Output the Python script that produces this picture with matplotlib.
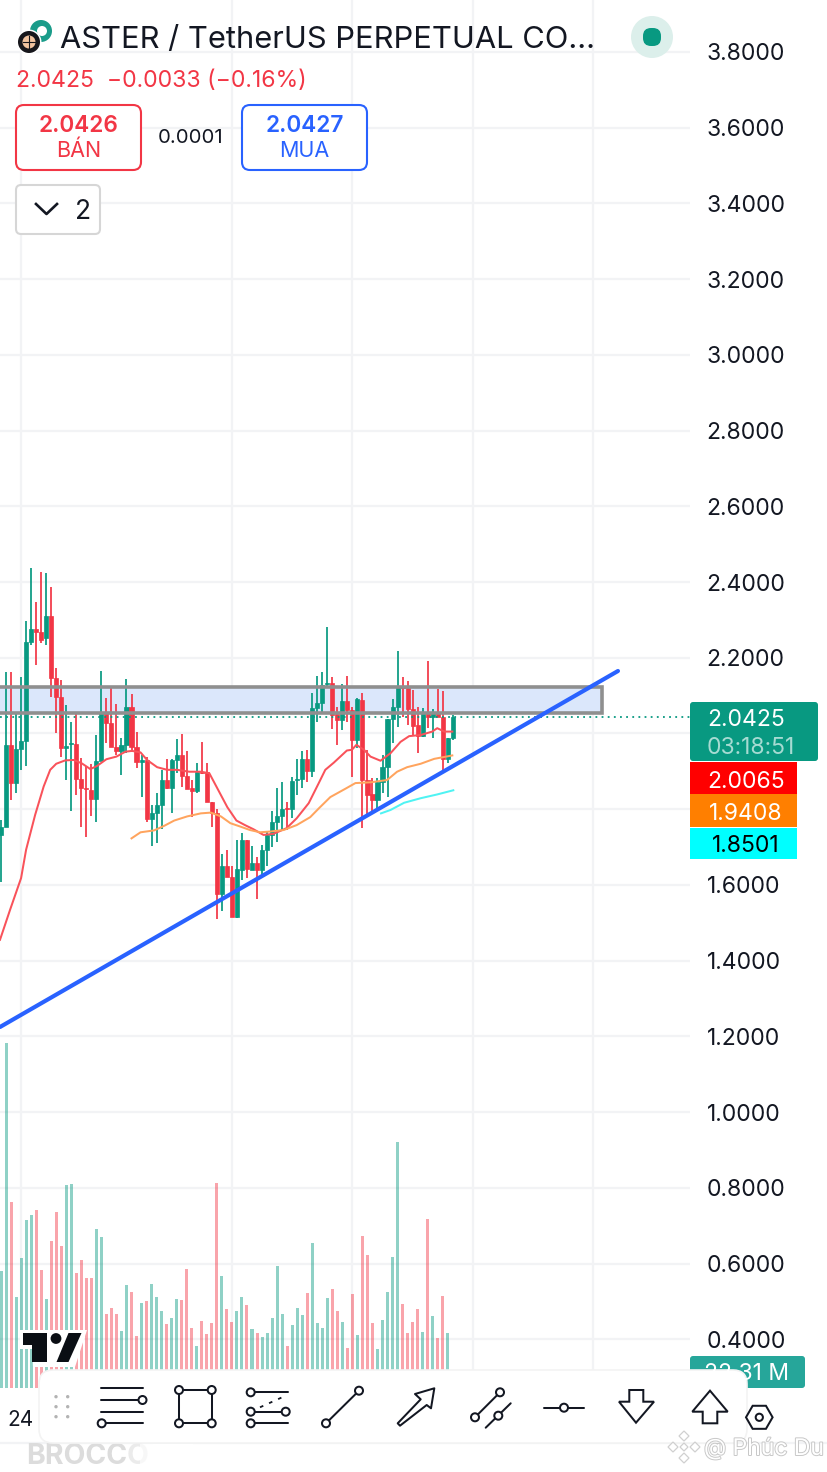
import numpy as np
import matplotlib
matplotlib.use('Agg')
import matplotlib.pyplot as plt
import matplotlib.patheffects as pe
from matplotlib.patches import Rectangle, Circle, FancyBboxPatch, Polygon

plt.rcParams['font.family'] = ['Inter', 'DejaVu Sans']

#candles
open_ = [1.732,1.754,1.970,1.869,1.959,1.979,2.241,2.276,2.267,2.251,2.310,2.146,2.097,1.961,1.972,1.972,1.879,1.855,1.851,1.826,
         1.926,2.053,2.029,1.964,1.955,1.970,2.069,1.965,1.924,1.930,1.774,1.789,1.810,1.877,1.856,1.930,1.942,1.888,1.856,1.849,
         1.899,1.897,1.818,1.791,1.576,1.650,1.622,1.515,1.640,1.719,1.640,1.659,1.640,1.691,1.732,1.765,1.783,1.802,1.800,1.877,
         1.879,1.933,1.901,2.068,2.080,2.131,2.133,2.052,2.036,2.087,2.062,1.983,2.088,1.877,1.840,1.825,1.871,1.911,2.037,2.071,
         2.126,2.121,2.065,2.022,1.993,2.058,2.043,2.058,2.044,1.933,1.987]
close = [1.754,1.970,1.869,1.959,1.979,2.241,2.276,2.269,2.247,2.310,2.146,2.097,1.961,1.967,1.974,1.879,1.855,1.853,1.826,1.926,
         2.053,2.029,1.964,1.955,1.970,2.069,1.965,1.924,1.930,1.774,1.789,1.810,1.877,1.856,1.930,1.942,1.888,1.854,1.849,1.899,
         1.895,1.818,1.791,1.576,1.650,1.622,1.515,1.642,1.719,1.641,1.659,1.640,1.692,1.732,1.765,1.783,1.800,1.800,1.875,1.879,
         1.933,1.901,2.066,2.080,2.128,2.134,2.049,2.036,2.087,2.062,1.983,2.090,1.877,1.838,1.825,1.871,1.911,2.037,2.071,2.126,
         2.121,2.064,2.021,1.993,2.056,2.043,2.058,2.044,1.933,1.988,2.043]
high = [1.772,2.163,2.163,2.051,2.150,2.298,2.436,2.346,2.427,2.425,2.388,2.172,2.140,2.074,2.030,2.053,1.935,1.914,1.919,1.996,
        2.166,2.093,2.124,2.078,1.987,2.143,2.104,2.005,1.943,1.939,1.811,1.842,1.904,1.933,1.932,1.985,1.999,1.955,1.877,1.921,
        1.977,1.921,1.818,1.800,1.682,1.691,1.650,1.719,1.738,1.719,1.703,1.675,1.706,1.741,1.794,1.855,1.873,1.820,1.886,1.933,
        1.955,1.957,2.106,2.153,2.163,2.280,2.150,2.071,2.131,2.153,2.071,2.093,2.108,1.957,1.883,1.882,1.943,2.037,2.090,2.219,
        2.148,2.138,2.115,2.071,2.066,2.192,2.064,2.118,2.112,1.988,2.049]
low = [1.609,1.754,1.823,1.842,1.904,1.914,2.234,2.181,2.240,2.234,2.097,2.002,1.937,1.876,1.796,1.838,1.752,1.726,1.781,1.765,
       1.926,1.976,1.964,1.943,1.891,1.948,1.952,1.908,1.832,1.767,1.704,1.710,1.747,1.854,1.791,1.895,1.858,1.854,1.779,1.844,
       1.893,1.818,1.754,1.510,1.530,1.622,1.515,1.512,1.613,1.618,1.640,1.563,1.618,1.649,1.701,1.714,1.745,1.745,1.776,1.838,
       1.855,1.873,1.886,2.031,2.058,2.119,2.011,1.970,2.008,2.031,1.886,1.961,1.750,1.785,1.794,1.798,1.842,1.832,1.974,2.016,
       2.043,2.022,1.996,1.948,1.992,2.014,1.987,2.044,1.902,1.923,1.983]
#volume bar heights (last one sits behind the toolbar)
volume = [47.3,139.0,74.9,36.8,52.3,67.6,69.8,72.0,47.6,35.9,59.3,71.0,57.2,81.9,82.3,46.2,51.5,44.5,44.2,64.0,
          61.0,29.8,32.2,29.7,22.9,41.5,38.8,20.8,34.4,35.1,41.9,36.7,31.0,26.0,28.1,36.1,35.6,48.1,24.4,16.9,
          27.0,21.9,26.3,82.5,45.0,31.8,26.7,30.9,36.7,33.5,23.8,22.1,20.7,22.3,28.1,49.4,29.9,17.0,25.4,32.4,
          29.5,38.5,58.5,26.2,24.2,36.2,39.8,31.1,26.8,16.1,37.9,21.4,61.3,53.7,26.2,15.6,27.3,38.7,53.0,99.3,
          34.0,22.3,26.8,31.9,22.6,68.2,29.0,20.2,37.1,22.3,6.5]

#moving averages, read point by point
ma_red_x = [-0.2,1.8,4,5,6.8,8.5,9.8,11,12.8,14.5,16.1,17.8,19.1,21,23,24.8,26.1,27.8,29.1,31.1,33.1,35.1,37.5,39.8,41.5,43.1,45.1,46.9,
            48.6,50.3,52.3,54.3,56.9,58.9,61.3,63.3,64.6,66.3,68.9,69.9,70.8,72.3,73.6,75.6,77.6,79.6,81.3,83.6,85.9,86.9,88.3,89.9]
ma_red_y = [1.455,1.534,1.618,1.693,1.785,1.860,1.904,1.920,1.929,1.930,1.921,1.906,1.914,1.932,1.939,1.952,1.954,1.950,1.930,1.911,1.904,1.904,1.899,1.899,1.895,1.855,1.805,1.770,
            1.758,1.747,1.732,1.735,1.750,1.776,1.816,1.869,1.904,1.923,1.955,1.957,1.970,1.957,1.939,1.928,1.948,1.978,1.993,1.996,2.005,2.014,2.005,2.005]
ma_orange_x = [26,27.8,30.5,32.5,34.5,37.1,39.8,41.8,43.8,45.7,47.7,49.6,51.6,53.6,56.3,58.9,61.6,63.3,65.6,68.6,70.6,73.6,76.9,78.9,80.9,83.6,86.3,89.9]
ma_orange_y = [1.723,1.739,1.744,1.756,1.770,1.781,1.789,1.791,1.781,1.763,1.754,1.745,1.739,1.741,1.745,1.758,1.779,1.802,1.832,1.854,1.869,1.871,1.877,1.899,1.911,1.920,1.933,1.942]
ma_cyan_x = [75.7,77.6,80.3,83.6,86.9,90.1]
ma_cyan_y = [1.789,1.798,1.817,1.829,1.839,1.850]

#drawings on the chart
zone_top, zone_bottom, zone_right = 2.1215, 2.054, 119.7
trend_x = [-0.2, 122.9]
trend_y = [1.2247, 2.165]
last_price = 2.0425
time_grid = [4, 46, 70, 94, 118]
price_ticks = np.arange(0.4, 3.81, 0.2)
hidden_ticks = (2.0, 1.8)  #these sit behind the price labels

W, H = 828, 1472
GREEN, RED, BLUE = '#089981', '#f23645', '#2962ff'
GRID = '#f2f3f5'
INK = '#131722'

#pixel <-> data frame of the pane
y_top = 3.8 + 52/378.6
y_bot = 3.8 - (H-52)/378.6
pane_bot = 3.8 - (1388-52)/378.6
x_left = -1/5.02
x_right = (690-1)/5.02

fig = plt.figure(figsize=(W/100, H/100), dpi=100, facecolor='white')

#%%
#price pane
ax = fig.add_axes([0, 0, 690/W, 1])
ax.set_xlim(x_left, x_right)
ax.set_ylim(y_bot, y_top)
for s in ax.spines.values():
    s.set_visible(False)
ax.set_xticks([])
ax.yaxis.tick_right()
ax.set_yticks(price_ticks)
ax.set_yticklabels(['' if round(t, 1) in hidden_ticks else '%.4f' % t for t in price_ticks], fontsize=16.5, color=INK)
ax.tick_params(axis='y', length=0, pad=12)
ax.grid(axis='y', color=GRID, lw=1.6, zorder=0)
ax.set_axisbelow(True)
ax.vlines(time_grid, pane_bot, y_top, color=GRID, lw=1.6, zorder=0.5)

ax.add_patch(Rectangle((x_left-2, zone_bottom), zone_right-x_left+2, zone_top-zone_bottom,
                       facecolor='#dbe7fb', edgecolor='none', zorder=1))

idx = np.arange(len(open_))
o = np.array(open_)
c = np.array(close)
cols = np.where(c >= o, GREEN, RED)
ax.vlines(idx, low, high, colors=cols, lw=1.25, zorder=2)
ax.bar(idx, np.abs(c-o), bottom=np.minimum(o, c), width=0.82, color=cols, edgecolor=cols, lw=0.5, zorder=3)

ax.add_patch(Rectangle((x_left-2, zone_bottom), zone_right-x_left+2, zone_top-zone_bottom,
                       facecolor='none', edgecolor='#8f8f8f', lw=2.6, zorder=4))
ax.hlines(last_price, x_left, x_right, color=GREEN, lw=1.3, linestyles=(0, (1, 2.4)), zorder=4)

ax.plot(ma_red_x, ma_red_y, color='#f9525a', lw=1.45, zorder=5)
ax.plot(ma_orange_x, ma_orange_y, color='#ffa45e', lw=1.45, zorder=5)
ax.plot(ma_cyan_x, ma_cyan_y, color='#4ff3f3', lw=1.45, zorder=5)
ax.plot(trend_x, trend_y, color=BLUE, lw=3.0, zorder=6, solid_capstyle='round')

#%%
#volume pane, same frame, own scale
vax = fig.add_axes([0, 0, 690/W, 1], zorder=3)
vax.patch.set_visible(False)
vax.axis('off')
vax.set_xlim(x_left, x_right)
vax.set_ylim(-(H-1388)*0.4034, 1388*0.4034)
vax.bar(idx, volume, width=0.6, color=cols, alpha=0.45, lw=0)

#%%
#screen furniture on top, in pixels
ui = fig.add_axes([0, 0, 1, 1], zorder=5)
ui.patch.set_visible(False)
ui.axis('off')
ui.set_xlim(0, W)
ui.set_ylim(H, 0)


def box(x0, y0, x1, y1, fc='white', ec='none', lw=1.5, r=8, z=1):
    ui.add_patch(FancyBboxPatch((x0+r, y0+r), x1-x0-2*r, y1-y0-2*r, boxstyle='round,pad=%g' % r,
                                fc=fc, ec=ec, lw=lw, zorder=z))


def txt(x, y, s, size, col=INK, ha='center', weight='normal', z=8, **kw):
    return ui.text(x, y, s, fontsize=size, color=col, ha=ha, va='center_baseline', fontweight=weight, zorder=z, **kw)


#header
ui.add_patch(Circle((41, 31), 11, fc='#1a9c8a', ec='none', zorder=2))
ui.add_patch(Circle((42, 31), 5, fc='white', ec='none', zorder=2))
ui.add_patch(Circle((29, 42), 12.5, fc='white', ec='none', zorder=3))
ui.add_patch(Circle((29, 42), 11, fc='#17171c', ec='none', zorder=3))
ui.add_patch(Circle((29, 42), 6.5, fc='#f2c4a0', ec='none', zorder=4))
ui.plot([29, 29], [36, 48], color='#17171c', lw=0.8, zorder=5)
ui.plot([23, 35], [42, 42], color='#17171c', lw=0.8, zorder=5)
txt(60, 37, 'ASTER / TetherUS PERPETUAL CO\u2026', 22.2, ha='left')
txt(16, 78, '2.0425  \u22120.0033 (\u22120.16%)', 16.6, col=RED, ha='left')

box(16, 105, 141, 170, ec=RED)
txt(78.5, 124, '2.0426', 16.3, col=RED, weight='semibold')
txt(78.5, 149, 'B\u00c1N', 15.5, col=RED)
txt(191, 136, '0.0001', 14.6)
box(242, 105, 367, 170, ec=BLUE)
txt(304.5, 124, '2.0427', 16.3, col=BLUE, weight='semibold')
txt(304.5, 149, 'MUA', 15.5, col=BLUE)
box(16, 185, 100, 234, ec='#d6d6d6', r=5)
ui.plot([36, 46.5, 57], [204, 214, 204], color=INK, lw=1.9, zorder=8)
txt(83, 209, '2', 19)

ui.add_patch(Circle((652, 37), 21, fc='#dcefeb', ec='none'))
box(643, 28, 661, 46, fc=GREEN, r=8)

#price labels
box(690, 702, 818, 761, fc=GREEN, r=3)
txt(707, 718, '2.0425', 16.5, col='white', ha='left')
txt(707, 745, '03:18:51', 16.5, col='#a6dbd2', ha='left')
ui.add_patch(Rectangle((690, 762), 107, 32, fc='#ff0000', ec='none'))
txt(746, 779, '2.0065', 16.5, col='white')
ui.add_patch(Rectangle((690, 794), 107, 33, fc='#ff7f00', ec='none'))
txt(746, 811, '1.9408', 16.5, col='white')
ui.add_patch(Rectangle((690, 828), 107, 31, fc='#00ffff', ec='none'))
txt(746, 844, '1.8501', 16.5, col='black')
box(690, 1356, 805, 1388, fc='#26a69a', r=3)
txt(747, 1372, '22.31 M', 16.5, col='white')

#TradingView mark
ui.add_patch(Polygon([(20, 1330), (87, 1330), (75, 1367), (33, 1367), (32, 1349), (20, 1349)], fc='white', ec='none', zorder=2))
ui.add_patch(Polygon([(23.3, 1333), (46.7, 1333), (46.7, 1362), (32.5, 1362), (32.5, 1345), (23.3, 1345)], fc='#0a0e14', ec='none', zorder=3))
ui.add_patch(Circle((56, 1338.5), 5.4, fc='#0a0e14', ec='none', zorder=3))
ui.add_patch(Polygon([(68.5, 1333), (81.5, 1333), (68.5, 1362), (56.5, 1362)], fc='#0a0e14', ec='none', zorder=3))

#time axis and watermark
ui.plot([0, W], [1443, 1443], color=GRID, lw=1.6, zorder=1)
txt(21, 1418, '24', 15)
txt(26, 1453, 'BROCCO', 20.5, col='#dcdcdc', ha='left', weight='bold', z=2)
ui.add_patch(Rectangle((128, 1444), 12, 20, fc='white', ec='none', alpha=0.45, zorder=3))
ui.add_patch(Rectangle((140, 1444), 13, 20, fc='white', ec='none', alpha=0.8, zorder=3))
ui.add_patch(Rectangle((153, 1444), 40, 20, fc='white', ec='none', zorder=3))

#toolbar
box(39, 1370, 747, 1443, ec='#f3f3f3', lw=1.2, r=14, z=6)
LW = 1.45
for dx in (56, 67.7):
    for dy in (1396.7, 1406.7, 1416.7):
        ui.add_patch(Circle((dx, dy), 1.7, fc='#b3b3b3', ec='none', zorder=7))


def seg(x0, y0, x1, y1, **kw):
    ui.plot([x0, x1], [y0, y1], color=INK, lw=kw.pop('lw', LW), zorder=7, solid_capstyle='round', **kw)


def dot(x, y, r=4):
    ui.add_patch(Circle((x, y), r, fc='white', ec=INK, lw=LW, zorder=8))


#lines icon
seg(101, 1388, 143, 1388); seg(101, 1400, 139, 1400); dot(142.5, 1400)
seg(101, 1411.7, 143, 1411.7); seg(102, 1423.3, 143, 1423.3); dot(101.7, 1423.3)
#rectangle icon
ui.add_patch(Rectangle((179, 1390), 32.7, 33.3, fc='none', ec=INK, lw=LW, zorder=7))
for p in [(179, 1390), (211.7, 1390), (179, 1423.3), (211.7, 1423.3)]:
    dot(*p)
#fib icon
seg(251, 1392.3, 288.3, 1392.3); dot(250.7, 1392.3)
ui.plot([260, 285], [1407.3, 1396], color=INK, lw=1.3, ls=(0, (2, 3.5)), zorder=7)
seg(251, 1411.7, 285, 1411.7); dot(250.7, 1411.7); dot(285.7, 1411.7)
seg(251, 1423.3, 288.3, 1423.3); dot(250.7, 1423.3)
#line icon
seg(326, 1423.3, 359, 1390.7); dot(326, 1423.3); dot(359, 1390.7)
#arrow icon
ui.add_patch(Polygon([(434.3, 1388.3), (415, 1394), (420.7, 1399.3), (397.7, 1423.3), (400, 1425.7), (426.7, 1405), (431, 1408.3)],
                     fc='white', ec=INK, lw=LW, joinstyle='round', zorder=7))
#channel icon
seg(475, 1417.3, 500, 1392.3); dot(500, 1392.3); dot(475, 1417.3)
seg(485.7, 1427.7, 510.7, 1403.3); dot(498.3, 1415.7)
#horizontal ray icon
seg(544, 1407.7, 584, 1407.7); dot(564, 1407.7)
#down and up arrows
ui.add_patch(Polygon([(629.3, 1390), (643.3, 1390), (643.3, 1401.7), (654, 1401.7), (636, 1422.7), (619, 1401.7), (629.3, 1401.7)],
                     fc='white', ec=INK, lw=LW, zorder=7))
ui.add_patch(Polygon([(710, 1390.7), (727.7, 1411.7), (717.3, 1411.7), (717.3, 1423.3), (702.7, 1423.3), (702.7, 1411.7), (692.3, 1411.7)],
                     fc='white', ec=INK, lw=LW, zorder=7))
#settings hexagon
ang = np.arange(6)*np.pi/3
ui.add_patch(Polygon(np.c_[759.3+13.3*np.cos(ang), 1417.3+13.3*np.sin(ang)], fc='white', ec=INK, lw=LW, zorder=7))
ui.add_patch(Circle((759.3, 1417.3), 3.6, fc='white', ec=INK, lw=LW, zorder=8))

#binance share mark
halo = [pe.withStroke(linewidth=1.4, foreground='#c8c8c8')]
for mx, my, mr in [(684, 1436, 5), (684, 1458, 5), (673, 1447, 5), (695, 1447, 5), (684, 1447, 4)]:
    ui.add_patch(Polygon([(mx, my-mr), (mx+mr, my), (mx, my+mr), (mx-mr, my)], fc='white', ec='#d0d0d0', lw=0.9, zorder=8))
t = txt(704, 1446, '@ Ph\u00fac Du', 16.5, col='white', ha='left', z=9)
t.set_path_effects(halo)

fig.savefig('out.png', dpi=100)
